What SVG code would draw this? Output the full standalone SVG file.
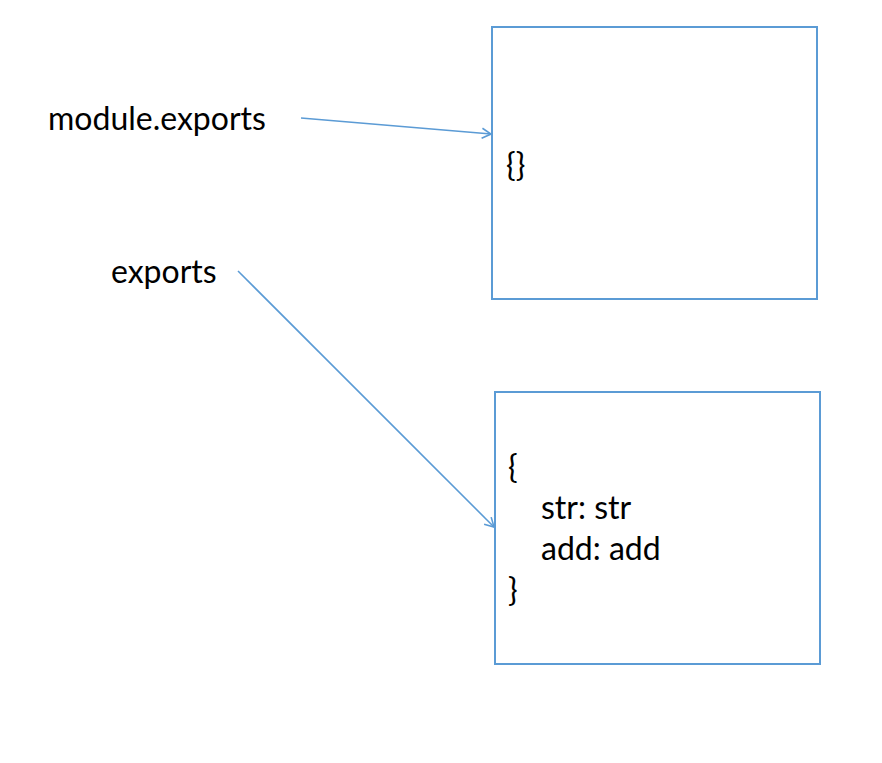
<svg xmlns="http://www.w3.org/2000/svg" width="882" height="763" viewBox="0 0 882 763">
<style>
.box{fill:#fff;stroke:#5B9BD5;stroke-width:2}
.t{font-family:Lato,"Open Sans","Liberation Sans",sans-serif;font-size:32px;fill:#000}
.c{stroke:#5B9BD5;stroke-width:1.6;fill:none;marker-end:url(#ah)}
</style>
<defs>
<marker id="ah" markerWidth="12" markerHeight="12" refX="10" refY="6" orient="auto" markerUnits="userSpaceOnUse">
<path d="M1,1 L10,6 L1,11" fill="none" stroke="#5B9BD5" stroke-width="1.6"/>
</marker>
</defs>
<rect width="882" height="763" fill="#fff"/>
<g id="label-module-exports"><text class="t" x="48" y="130">module.exports</text></g>
<g id="label-exports"><text class="t" x="111" y="283">exports</text></g>
<g id="obj-empty">
<rect class="box" x="492" y="27" width="325" height="272"/>
<text class="t" x="506" y="176">{}</text>
</g>
<g id="obj-full">
<rect class="box" x="495" y="392" width="325" height="272"/>
<text class="t" x="508" y="478">{</text>
<text class="t" x="541" y="519">str: str</text>
<text class="t" x="541" y="560">add: add</text>
<text class="t" x="508" y="601">}</text>
</g>
<g id="connectors">
<line class="c" x1="301" y1="118" x2="491" y2="134"/>
<line class="c" x1="238" y1="271" x2="494" y2="527"/>
</g>
</svg>
